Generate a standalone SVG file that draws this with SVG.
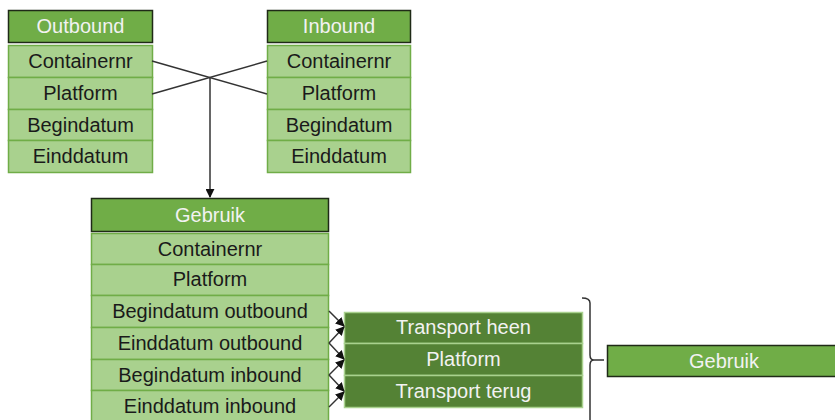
<svg xmlns="http://www.w3.org/2000/svg" width="835" height="420" viewBox="0 0 835 420">
<defs>
<style>
.hdr{fill:#70AD47;stroke:#1F2A17;stroke-width:1.5}
.row{fill:#A9D18E;stroke:#70AD47;stroke-width:1.5}
.drow{fill:#548235;stroke:#A9D18E;stroke-width:1.5}
text{font-family:"Liberation Sans",Arial,sans-serif;font-size:20px;text-anchor:middle;dominant-baseline:central}
.ht{fill:#F2F2F2}
.rt{fill:#1A1A1A}
.ln{stroke:#333;stroke-width:1.5;fill:none}
</style>
<marker id="ah" viewBox="0 0 10 10" refX="9" refY="5" markerWidth="6" markerHeight="6" orient="auto">
<path d="M0,0 L10,5 L0,10 z" fill="#111"/>
</marker>
</defs>
<rect width="835" height="420" fill="#fff"/>

<g id="outbound">
<rect class="hdr" x="8.5" y="10.5" width="144" height="32"/>
<text class="ht" x="80.5" y="26">Outbound</text>
<rect class="row" x="8.5" y="45.5" width="144" height="32"/>
<text class="rt" x="80.5" y="61">Containernr</text>
<rect class="row" x="8.5" y="77.5" width="144" height="32"/>
<text class="rt" x="80.5" y="93">Platform</text>
<rect class="row" x="8.5" y="109.5" width="144" height="31"/>
<text class="rt" x="80.5" y="125">Begindatum</text>
<rect class="row" x="8.5" y="140.5" width="144" height="32"/>
<text class="rt" x="80.5" y="156">Einddatum</text>
</g>

<g id="inbound">
<rect class="hdr" x="267.5" y="10.5" width="143" height="32"/>
<text class="ht" x="339" y="26">Inbound</text>
<rect class="row" x="267.5" y="45.5" width="143" height="32"/>
<text class="rt" x="339" y="61">Containernr</text>
<rect class="row" x="267.5" y="77.5" width="143" height="32"/>
<text class="rt" x="339" y="93">Platform</text>
<rect class="row" x="267.5" y="109.5" width="143" height="31"/>
<text class="rt" x="339" y="125">Begindatum</text>
<rect class="row" x="267.5" y="140.5" width="143" height="32"/>
<text class="rt" x="339" y="156">Einddatum</text>
</g>

<g id="gebruik">
<rect class="hdr" x="91.5" y="198.5" width="237" height="33"/>
<text class="ht" x="210" y="215">Gebruik</text>
<rect class="row" x="91.5" y="233.5" width="237" height="31"/>
<text class="rt" x="210" y="249">Containernr</text>
<rect class="row" x="91.5" y="264.5" width="237" height="31"/>
<text class="rt" x="210" y="279">Platform</text>
<rect class="row" x="91.5" y="295.5" width="237" height="32"/>
<text class="rt" x="210" y="311">Begindatum outbound</text>
<rect class="row" x="91.5" y="327.5" width="237" height="32"/>
<text class="rt" x="210" y="343">Einddatum outbound</text>
<rect class="row" x="91.5" y="359.5" width="237" height="31"/>
<text class="rt" x="210" y="375">Begindatum inbound</text>
<rect class="row" x="91.5" y="390.5" width="237" height="32"/>
<text class="rt" x="210" y="406">Einddatum inbound</text>
</g>

<g id="transport">
<rect class="drow" x="344.5" y="312.5" width="238" height="31"/>
<text class="ht" x="463.5" y="327">Transport heen</text>
<rect class="drow" x="344.5" y="343.5" width="238" height="32"/>
<text class="ht" x="463.5" y="359">Platform</text>
<rect class="drow" x="344.5" y="375.5" width="238" height="32"/>
<text class="ht" x="463.5" y="391">Transport terug</text>
</g>

<g id="gebruik2">
<rect class="hdr" x="607.5" y="345.5" width="232" height="31"/>
<text class="ht" x="724" y="361">Gebruik</text>
</g>

<g id="connectors">
<line class="ln" x1="152" y1="61" x2="267" y2="94"/>
<line class="ln" x1="152" y1="94" x2="267" y2="61"/>
<line class="ln" x1="210" y1="78" x2="210" y2="197" marker-end="url(#ah)"/>
<line class="ln" x1="329" y1="311" x2="344" y2="326" marker-end="url(#ah)"/>
<line class="ln" x1="329" y1="343" x2="344" y2="327" marker-end="url(#ah)"/>
<line class="ln" x1="329" y1="343" x2="344" y2="359" marker-end="url(#ah)"/>
<line class="ln" x1="329" y1="375" x2="344" y2="360" marker-end="url(#ah)"/>
<line class="ln" x1="329" y1="375" x2="344" y2="391" marker-end="url(#ah)"/>
<line class="ln" x1="329" y1="407" x2="344" y2="392" marker-end="url(#ah)"/>
<path class="ln" d="M582,298 Q590,298 590,303 L590,355 Q590,360 594,360 L604,360 M594,360 Q590,360 590,365 L590,420"/>
</g>
</svg>
